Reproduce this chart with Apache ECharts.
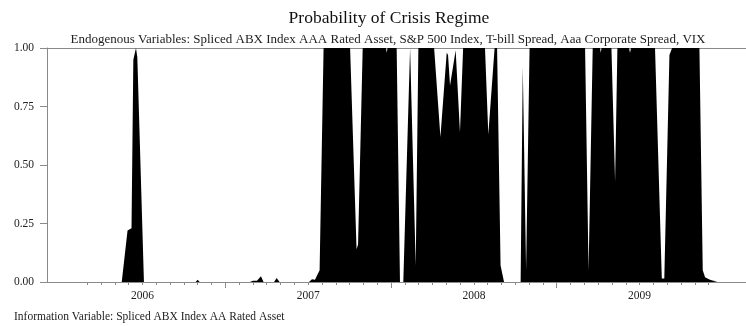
<!DOCTYPE html>
<html>
<head>
<meta charset="utf-8">
<script src="https://cdn.jsdelivr.net/npm/echarts@6/dist/echarts.min.js"></script>
<style>
html,body{margin:0;padding:0;background:#fff;}
#chart{width:746px;height:326px;}
</style>
</head>
<body>
<div id="chart"></div>
<script>
var obsTime = [
  2006.170, 2006.375, 2006.410, 2006.434, 2006.445, 2006.461, 2006.469, 2006.509,
  2006.821, 2006.833, 2006.845,
  2007.149, 2007.167, 2007.191, 2007.203, 2007.215, 2007.231,
  2007.294, 2007.310, 2007.327,
  2007.505, 2007.523, 2007.541, 2007.553, 2007.569, 2007.593,
  2007.753, 2007.792, 2007.801, 2007.829, 2007.970, 2007.974, 2007.979,
  2008.034, 2008.054, 2008.074, 2008.115, 2008.125, 2008.149, 2008.165,
  2008.260, 2008.298, 2008.336, 2008.344, 2008.356, 2008.390, 2008.416, 2008.435,
  2008.567, 2008.587, 2008.625, 2008.640, 2008.661, 2008.682,
  2008.782, 2008.795, 2008.800, 2008.815, 2008.821, 2008.836,
  2009.171, 2009.192, 2009.217, 2009.261, 2009.266, 2009.270,
  2009.330, 2009.352, 2009.366, 2009.436, 2009.442, 2009.448,
  2009.593, 2009.634, 2009.649, 2009.680, 2009.696,
  2009.861, 2009.881, 2009.895, 2009.909, 2009.925, 2009.945, 2009.969, 2009.980
];
var crisisProb = [
  0, 0, 0.22, 0.23, 0.95, 1.0, 0.96, 0,
  0, 0.01, 0,
  0, 0.005, 0.005, 0.01, 0.025, 0,
  0, 0.017, 0,
  0, 0.012, 0.01, 0.015, 0.05, 1.0,
  1.0, 0.14, 0.16, 1.0, 1.0, 0.98, 1.0,
  1.0, 0, 0, 1.0, 1.0, 0.07, 1.0,
  1.0, 0.62, 0.98, 0.97, 0.84, 0.99, 0.64, 1.0,
  1.0, 0.63, 1.0, 1.0, 0.07, 0,
  0, 0.92, 0.92, 0.05, 0.05, 1.0,
  1.0, 0.05, 1.0, 1.0, 0.98, 1.0,
  1.0, 0.43, 1.0, 1.0, 0.98, 1.0,
  1.0, 0.015, 0.015, 0.97, 1.0,
  1.0, 0.05, 0.02, 0.015, 0.01, 0.005, 0.003, 0
];
var yearLabels = ['2006', '2007', '2008', '2009'];
var yearBoundaries = [2007, 2008, 2009];
var yTickValues = [0, 0.25, 0.5, 0.75, 1.0];

var titleText = 'Probability of Crisis Regime';
var subtitleText = 'Endogenous Variables: Spliced ABX Index AAA Rated Asset, S&P 500 Index, T-bill Spread, Aaa Corporate Spread, VIX';
var footerText = 'Information Variable: Spliced ABX Index AA Rated Asset';

var xMin = 2005.924, xMax = 2010.142;
var labelPos = yearLabels.map(function (y) { return +y + 0.5; });
var monthTicks = [];
for (var k = 2; k < 48; k++) { if (k % 12 !== 0) monthTicks.push(2006 + k / 12); }

var seriesData = obsTime.map(function (t, i) { return [t, crisisProb[i]]; });

var FONT = '"Liberation Serif", "Times New Roman", serif';
var axisGray = '#8a8a8a';
var textCol = '#222';

var chart = echarts.init(document.getElementById('chart'), null, {renderer: 'canvas'});
chart.setOption({
  animation: false,
  backgroundColor: '#fff',
  title: [
    {text: titleText, left: 384, top: 4, textAlign: 'center',
     textStyle: {fontFamily: FONT, fontSize: 17.5, fontWeight: 'normal', color: '#111'}},
    {text: subtitleText, left: 383, top: 28, textAlign: 'center',
     textStyle: {fontFamily: FONT, fontSize: 13, fontWeight: 'normal', color: textCol}},
    {text: footerText, left: 9, top: 306,
     textStyle: {fontFamily: FONT, fontSize: 11.5, fontWeight: 'normal', color: textCol}}
  ],
  grid: {left: 47, right: 0, top: 48, bottom: 44, containLabel: false},
  xAxis: [
    {type: 'value', min: xMin, max: xMax, position: 'bottom',
     splitLine: {show: false},
     axisLine: {show: true, lineStyle: {color: axisGray, width: 1}},
     axisTick: {show: true, customValues: yearBoundaries, length: 6, inside: false,
                lineStyle: {color: axisGray}},
     axisLabel: {show: true, customValues: labelPos, margin: 8,
                 fontFamily: FONT, fontSize: 11.5, color: textCol,
                 formatter: function (v) { return String(Math.floor(v + 1e-6)); }}},
    {type: 'value', min: xMin, max: xMax, position: 'bottom', gridIndex: 0,
     splitLine: {show: false},
     axisLine: {show: false},
     axisTick: {show: true, customValues: monthTicks, length: 3,
                lineStyle: {color: axisGray}},
     axisLabel: {show: false}},
    {type: 'value', min: xMin, max: xMax, position: 'top', gridIndex: 0,
     splitLine: {show: false},
     axisLine: {show: true, lineStyle: {color: axisGray, width: 1}},
     axisTick: {show: false}, axisLabel: {show: false}}
  ],
  yAxis: {
    type: 'value', min: 0, max: 1, interval: 0.25,
    splitLine: {show: false},
    axisLine: {show: true, lineStyle: {color: axisGray, width: 1}},
    axisTick: {show: true, customValues: yTickValues, length: 7, lineStyle: {color: axisGray}},
    axisLabel: {margin: 13, fontFamily: FONT, fontSize: 11.5, color: textCol,
                formatter: function (v) { return v.toFixed(2); }}
  },
  series: [{
    type: 'line', xAxisIndex: 0, yAxisIndex: 0,
    data: seriesData,
    showSymbol: false, symbol: 'none', smooth: false,
    lineStyle: {width: 0, color: '#000'},
    areaStyle: {color: '#000', opacity: 1},
    itemStyle: {color: '#000'},
    z: 1
  }]
});
</script>
</body>
</html>
